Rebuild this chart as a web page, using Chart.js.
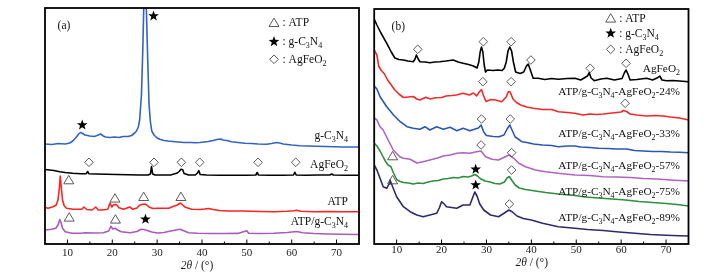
<!DOCTYPE html>
<html><head><meta charset="utf-8">
<script src="https://cdn.jsdelivr.net/npm/chart.js@4/dist/chart.umd.min.js"></script>
<style>
html,body{margin:0;padding:0;background:#fff;width:713px;height:274px;overflow:hidden}
#ca{position:absolute;left:0;top:0}
#cb{position:absolute;left:365px;top:0}
</style></head><body>
<canvas id="ca" width="365" height="274"></canvas>
<canvas id="cb" width="348" height="274"></canvas>
<script>
// ---------- tick labels ----------
const xTicks = [10,20,30,40,50,60,70];
const xMinor = [15,25,35,45,55,65];

// ---------- panel (a): [2theta, intensity (offset, a.u.)] ----------
const a_gC3N4 = [[5,100],[6.5,99.5],[8,100.5],[9.5,100],[10.5,101],[11.2,103],[12,107],[12.5,110],[12.9,111.5],[13.4,110.5],[13.9,109],[14.5,108.5],[15,108],[16,107.5],[16.6,108.5],[17.4,110],[18,108],[18.5,107],[19.5,106.5],[20.5,107],[21.5,106.5],[22.4,107.5],[23.5,107.5],[24.3,108.5],[25,111],[25.4,113],[25.8,117],[26.1,124],[26.5,149],[26.8,194],[27,234],[27.2,254],[27.4,254],[27.6,234],[27.9,184],[28.2,139],[28.5,122],[28.8,113],[29.3,109],[30,106],[30.6,104.7],[31.5,103.5],[32.4,103],[33.5,102.5],[34.7,102],[36,101.5],[37.5,101.5],[38.4,101.3],[39.5,101.5],[40.5,102],[41.4,102.5],[42.5,103.5],[43.6,104.7],[44.2,105],[44.7,104],[45.5,103.5],[46.6,102.3],[48,101.5],[49.6,100.7],[51,100.5],[52.5,100],[54.4,99.7],[55.5,100.5],[56.6,101.5],[57.3,101],[58.1,100],[60,99],[61.8,98.3],[63.5,98],[65.6,97.7],[67.5,97.5],[69.3,97.3],[71.5,97],[73,97],[75,97]];
const a_AgFeO2 = [[5,74.5],[6,74],[7,73.5],[8.3,72.3],[9.5,71.5],[11.2,70.7],[13,70.3],[14.2,70.3],[14.5,72.5],[14.8,70.2],[16.5,70],[18.7,69.7],[21,69.5],[23.5,69.2],[26.1,69],[28,69],[28.5,70],[28.75,77.5],[29,70],[29.5,69],[31,69],[33,69],[34.5,71],[34.9,72.5],[35.3,74.7],[35.7,74.2],[36,70.5],[37,69],[38.5,69],[39,71],[39.3,73.3],[39.6,69.5],[41,69],[44,68.7],[47,68.7],[50,68.7],[52,69],[52.3,71.5],[52.6,69],[55,68.8],[58,68.8],[60.4,69],[60.7,71.7],[61,69],[63,68.8],[66,69],[68.5,69],[68.9,70],[69.3,69],[72,68.8],[75,68.7]];
const a_ATP = [[5,36.7],[5.7,35.7],[6.8,37.3],[7.5,39],[7.9,44],[8.2,56],[8.4,68],[8.6,58],[8.9,44],[9.3,38],[9.8,35.7],[11.2,34.7],[13.2,34.7],[13.7,37],[14.3,34.5],[15.5,34],[16.3,37],[16.9,34],[17.7,34],[19,34.7],[19.5,41],[19.9,37],[20.2,39],[20.6,39.5],[21,39],[21.5,36.3],[22.5,34.7],[23.9,37],[24.6,34.7],[25.5,36],[26,38.5],[26.5,39.5],[27.2,40],[27.7,39],[28.2,37],[29,35.5],[30.1,35.7],[31.5,35.7],[32.6,35.7],[33.8,38],[34.5,39],[35.2,41],[35.7,39],[36.3,36.7],[37.7,34.7],[39.5,34.5],[40.6,35],[41.5,35.5],[42.5,34.5],[43.8,33.5],[46,33],[49,33],[51,32.7],[53,32.5],[56,32.3],[59,32.7],[60.5,33.3],[61.1,33.7],[62,32.8],[65,32.3],[68,32.5],[71,32.3],[75,32.3]];
const a_ATPgC3N4 = [[5,14],[6.5,14.7],[7.4,15.7],[7.9,19],[8.3,24.5],[8.6,21],[8.9,15.7],[9.5,12.3],[11,10.7],[13,10.7],[14,11.3],[16,11],[18,11.3],[19.2,13],[19.7,17.7],[20.1,15],[20.6,15.7],[21.2,14],[22,12.3],[24,11.3],[25.5,12.5],[26.4,14.7],[27,14.5],[27.8,13.5],[28.8,12],[30,11],[31.5,11.5],[33,13],[34.5,14.2],[35.1,14.8],[35.8,13.5],[37,11.3],[39,10.7],[42,10.5],[45,10.5],[48,10.6],[50,13.2],[50.4,10.8],[53,10.5],[56,10.7],[59,11.5],[61.1,12.5],[62.5,11.2],[65,10.5],[68,10],[71,9.7],[75,9.5]];
// markers (a): [symbol, 2theta, intensity]
const a_markers = [['star',29.2,228],['star',13.3,119],
 ['dia',14.8,81.7],['dia',29.3,81.7],['dia',35.4,81.7],['dia',39.5,81.7],['dia',52.5,81.7],['dia',60.9,81.7],
 ['tri',10.3,64],['tri',20.6,45.7],['tri',27.0,47.3],['tri',35.3,47.3],
 ['tri',10.4,26.7],['tri',20.7,24.7],['star',27.4,24.7]];

// ---------- panel (b) ----------
const b_AgFeO2 = [[5,225],[5.6,219],[6.5,211],[7.8,200.7],[8.8,192],[9.6,186],[10.5,184.5],[11.5,184],[12.5,183],[13.7,182.3],[14.1,185],[14.4,189],[14.8,185],[15.2,182.3],[16.3,182],[17.4,181.3],[18.5,182],[19.6,182.3],[21,183],[22.6,184],[23.7,182],[24.8,180.7],[26,179.5],[27.1,178],[27.9,176],[28.3,182],[28.6,192],[28.9,197],[29.2,192],[29.5,179],[29.8,172],[30.2,174],[31.5,173.5],[32.5,174],[33.5,173.5],[34,176],[34.4,182],[34.8,193],[35.2,197],[35.6,193],[36,182],[36.5,172],[37.5,170.5],[38.3,172],[38.9,178],[39.3,180],[39.7,175],[40.4,165.7],[41.5,165.7],[43,164.5],[44.5,165.5],[46,164.7],[48,165.5],[49.7,165.7],[51,164],[52.5,168],[52.9,171.3],[53.3,166],[54,163.3],[55.5,165],[56.8,165.7],[58.5,164],[60.2,165.5],[60.7,171],[61.1,174],[61.5,170],[62,164],[63.5,164.5],[65.7,165.7],[67,164],[68.2,166.5],[68.6,168],[69.1,164],[70.1,163.3],[71.5,163.5],[73,163],[75,162.3]];
const b_24 = [[5,194],[5.6,189],[6,178],[6.5,174],[7.3,170],[8,164],[8.8,159],[9.6,154],[10.5,150],[11.5,146.5],[12.6,147],[13.7,147.5],[14.5,145],[15.2,144],[16.5,146.7],[17.5,145],[18.7,146.3],[20,146.5],[21,148],[22.3,148.5],[23.3,149],[24.8,150.7],[26.2,149],[27.1,151],[27.8,148],[28.4,152],[28.9,154.5],[29.3,149],[29.9,142.5],[31,144.5],[32,144],[33.4,142.3],[34.4,147],[34.9,152.5],[35.3,152],[35.9,145],[36.7,141.5],[37.6,139],[39,137],[40.4,135.7],[42.5,134.5],[44.6,134.5],[46,132.3],[48,131.5],[49.7,130.7],[51.5,129],[53,130],[54.5,129.5],[56,130],[58,131],[60,132],[60.5,133.5],[61.2,132.5],[62,130],[63.5,129],[65.7,128],[67.5,128.5],[69.4,128],[71,127],[73,126],[75,124]];
const b_33 = [[5,158],[5.6,155],[6.3,147.3],[7.8,137.3],[9.3,129],[10.8,122.3],[12.3,117.3],[13.7,115.7],[15.2,114.7],[16.3,117.3],[17.4,114],[18.9,117.3],[20.4,114.7],[21.9,116.7],[23.4,113.3],[24.8,115.7],[26.3,113.3],[27.5,115],[28.2,116],[28.8,119],[29.4,112],[30,108.5],[31.5,107.5],[32.8,107.3],[33.9,109],[34.6,115],[35.2,119],[35.7,114],[36.4,107],[37.9,102.3],[39,101.5],[40.5,100],[42.5,99],[44.5,98.5],[46,97.3],[48,98],[49.7,98],[51,97],[53,96.5],[55,95.7],[57,95.5],[59,95],[61.2,95],[63,93.5],[65,93],[67,92.5],[69,92.5],[71,92],[73,91.7],[75,91.3]];
const b_57 = [[5,126],[5.6,124],[6.3,117.3],[7,114],[8.1,104],[9.25,94],[10.7,87.3],[11.5,85.7],[13,84.7],[14.5,81],[15.9,82.3],[17.4,84],[18.9,85.7],[20.4,88],[21.9,89],[23.4,90.7],[24.8,91.3],[26.3,90.7],[27.8,92.3],[28.8,93],[29.8,87.3],[31.2,84.7],[32.7,84],[34.2,87.3],[35,89],[36.1,85.7],[37.2,80.7],[38.7,77.3],[40.9,74],[43.2,72.3],[46,70.7],[49.7,69],[53,68.5],[56,67.3],[59,67],[62,66.5],[65,65.5],[68,65],[71,64],[75,63]];
const b_75 = [[5,101],[5.6,98],[6.3,93],[7,87],[7.6,82],[8.1,79],[8.7,77.5],[9.3,71],[10,64.5],[10.8,62.5],[11.5,61.5],[12.6,61],[13.7,60],[14.8,61],[15.9,60.5],[17,62],[18.1,63],[19.3,63.5],[20.4,65],[21.5,65.5],[22.6,66.5],[23.7,66],[24.8,67.5],[25.9,67],[26.7,68],[27.4,69.5],[28,68],[28.6,65.5],[29.7,63],[30.8,62],[31.9,60.5],[33,60],[34,62],[34.6,66],[35.1,67.5],[35.6,64],[36.4,59],[37.3,56],[38.7,54.5],[40.9,53],[43.2,51.5],[46,50],[49.7,48.5],[52,47],[55,46],[58,45],[61,44],[64,42.5],[67,41.5],[70,40.5],[72.5,39.5],[75,38]];
const b_89 = [[5,79],[5.6,74],[6.3,65.7],[7,57.3],[7.8,55.7],[8.3,60],[8.5,64],[8.8,61],[9.1,57.3],[10,47.3],[11.5,37.3],[13,32.3],[14.5,29],[15.9,27.3],[17.4,29],[18.9,30.7],[19.5,36],[20,42.3],[20.6,40],[21.1,37.3],[22.2,36.5],[23.4,35.7],[24.8,39],[26.3,39],[26.9,46],[27.4,52],[27.9,48],[28.5,40],[29.4,34],[30.9,29],[32.7,27.3],[34,31],[35,34],[35.8,32],[36.8,28],[38.2,25.5],[40,24],[42.5,20.7],[46,17.3],[49.7,15.7],[52.5,14.5],[56,13.5],[59.5,12],[63,10.7],[66.5,9.5],[70,8.7],[73,8.2],[75,8]];
const b_markers = [
 ['dia',14.7,194.7],['dia',29.3,202.3],['dia',35.5,202.3],['dia',39.9,184],['dia',53.1,175.7],['dia',61.1,180.7],
 ['dia',29.2,162.3],['dia',35.5,162.3],['dia',60.9,140.7],
 ['dia',28.9,125],['dia',35.3,125],
 ['dia',28.8,99],['dia',35.6,91.3],
 ['tri',9.1,88],['star',27.6,74.7],['dia',35.6,74],
 ['tri',9.1,64],['star',27.6,59],['dia',35.1,40]];

// ---------- text ----------
const a_names = ['g-C_3N_4','AgFeO_2','ATP','ATP/g-C_3N_4'];
const b_names = ['AgFeO_2','ATP/g-C_3N_4-AgFeO_2-24%','ATP/g-C_3N_4-AgFeO_2-33%','ATP/g-C_3N_4-AgFeO_2-57%','ATP/g-C_3N_4-AgFeO_2-75%','ATP/g-C_3N_4-AgFeO_2-89%'];
const legendItems = [['tri',': ATP'],['star',': g-C_3N_4'],['dia',': AgFeO_2']];
const axisTitle = '*2θ* / (°)';

const SERIF = '"Liberation Serif","Times New Roman",serif';

function drawRich(ctx, str, x, y, size, align, color) {
  const segs = []; let it = false;
  for (let i = 0; i < str.length; i++) {
    const c = str[i];
    if (c === '*') { it = !it; continue; }
    if (c === '_') { segs.push({t: str[++i], sub: true, it}); continue; }
    const last = segs[segs.length-1];
    if (last && !last.sub && last.it === it) last.t += c; else segs.push({t: c, sub: false, it});
  }
  const font = s => (s.it ? 'italic ' : '') + (s.sub ? size*0.7 : size) + 'px ' + SERIF;
  let w = 0;
  segs.forEach(s => { ctx.font = font(s); s.w = ctx.measureText(s.t).width; w += s.w; });
  let cx = align === 'right' ? x - w : align === 'center' ? x - w/2 : x;
  ctx.fillStyle = color || '#111';
  ctx.textBaseline = 'alphabetic'; ctx.textAlign = 'left';
  const base = y + size*0.33;
  segs.forEach(s => { ctx.font = font(s); ctx.fillText(s.t, cx, s.sub ? base + size*0.25 : base); cx += s.w; });
}

function drawSym(ctx, type, px, py) {
  ctx.save();
  ctx.lineWidth = 0.9; ctx.strokeStyle = '#4a4a4a'; ctx.fillStyle = '#000';
  ctx.beginPath();
  if (type === 'tri') {
    ctx.moveTo(px, py - 4.6); ctx.lineTo(px + 5, py + 3.8); ctx.lineTo(px - 5, py + 3.8); ctx.closePath(); ctx.stroke();
  } else if (type === 'dia') {
    ctx.moveTo(px, py - 4.3); ctx.lineTo(px + 4.3, py); ctx.lineTo(px, py + 4.3); ctx.lineTo(px - 4.3, py); ctx.closePath(); ctx.stroke();
  } else {
    for (let k = 0; k < 10; k++) {
      const r = k % 2 ? 2.3 : 5.6, an = -Math.PI/2 + k*Math.PI/5;
      const fx = px + r*Math.cos(an), fy = py + r*Math.sin(an);
      k ? ctx.lineTo(fx, fy) : ctx.moveTo(fx, fy);
    }
    ctx.closePath(); ctx.fill();
  }
  ctx.restore();
}

function makeDeco(cfg) {
  return {
    id: 'deco',
    afterDatasetsDraw(chart) {
      const {ctx, chartArea: ca, scales: {x, y}} = chart;
      ctx.save();
      ctx.strokeStyle = '#000'; ctx.lineWidth = 1;
      xTicks.forEach(v => { const p = x.getPixelForValue(v); ctx.beginPath(); ctx.moveTo(p, ca.bottom); ctx.lineTo(p, ca.bottom - 4.5); ctx.stroke(); });
      xMinor.forEach(v => { const p = x.getPixelForValue(v); ctx.beginPath(); ctx.moveTo(p, ca.bottom); ctx.lineTo(p, ca.bottom - 2.5); ctx.stroke(); });
      ctx.lineWidth = 1.8;
      ctx.strokeRect(ca.left, ca.top, ca.right - ca.left, ca.bottom - ca.top);
      cfg.markers.forEach(m => drawSym(ctx, m[0], x.getPixelForValue(m[1]), y.getPixelForValue(m[2])));
      cfg.names.forEach((n, i) => drawRich(ctx, n, cfg.labelX, cfg.labelY[i], cfg.labelSize, 'right'));
      legendItems.forEach((it, i) => {
        drawSym(ctx, it[0], cfg.legX, cfg.legY[i]);
        drawRich(ctx, it[1], cfg.legX + 8.5, cfg.legY[i], 11.5, 'left');
      });
      drawRich(ctx, cfg.letter, cfg.letterX, cfg.letterY, 11.5, 'center');
      drawRich(ctx, axisTitle, cfg.titleX, cfg.titleY, 11.5, 'center', '#222');
      ctx.restore();
    }
  };
}

function makeChart(id, cfg) {
  return new Chart(document.getElementById(id), {
    type: 'line',
    data: { datasets: cfg.series.map((s, i) => ({
      data: s.map(p => ({x: p[0], y: p[1]})),
      borderColor: cfg.colors[i], borderWidth: 1.6, pointRadius: 0, tension: 0, fill: false,
      borderJoinStyle: 'round'
    })) },
    options: {
      responsive: false, animation: false, events: [],
      layout: { padding: cfg.pad },
      plugins: { legend: {display: false}, tooltip: {enabled: false} },
      scales: {
        x: { type: 'linear', min: 5, max: 75,
             afterBuildTicks: ax => { ax.ticks = xTicks.map(v => ({value: v})); },
             afterFit: ax => { ax.height = 30; },
             grid: { display: false, drawTicks: false },
             border: { display: false },
             ticks: { padding: cfg.tickPad, autoSkip: false, maxRotation: 0,
                      font: {family: SERIF, size: 11}, color: '#222' } },
        y: { display: false, min: 0, max: cfg.ymax }
      }
    },
    plugins: [makeDeco(cfg)]
  });
}

makeChart('ca', {
  series: [a_gC3N4, a_AgFeO2, a_ATP, a_ATPgC3N4],
  colors: ['#3463c2', '#000000', '#ff2424', '#a95abd'],
  pad: {left: 45, right: 6, top: 8, bottom: 0},
  ymax: 236, tickPad: 3,
  markers: a_markers,
  names: a_names, labelX: 348, labelY: [135, 164, 201, 221], labelSize: 11.5,
  legX: 274, legY: [22.7, 41.7, 59.3],
  letter: '(a)', letterX: 64, letterY: 25,
  titleX: 197, titleY: 265
});
makeChart('cb', {
  series: [b_AgFeO2, b_24, b_33, b_57, b_75, b_89],
  colors: ['#000000', '#f02a2a', '#2b56b6', '#b064c1', '#2f8e3e', '#2c2c6c'],
  pad: {left: 9.2, right: 24.5, top: 9, bottom: 0},
  ymax: 235, tickPad: 0,
  markers: b_markers,
  names: b_names, labelX: 315, labelY: [68, 91, 133, 165, 191, 217], labelSize: 11.3,
  legX: 245.7, legY: [18.3, 33.3, 49.3],
  letter: '(b)', letterX: 33.3, letterY: 26,
  titleX: 166.7, titleY: 262
});
</script>
</body></html>
